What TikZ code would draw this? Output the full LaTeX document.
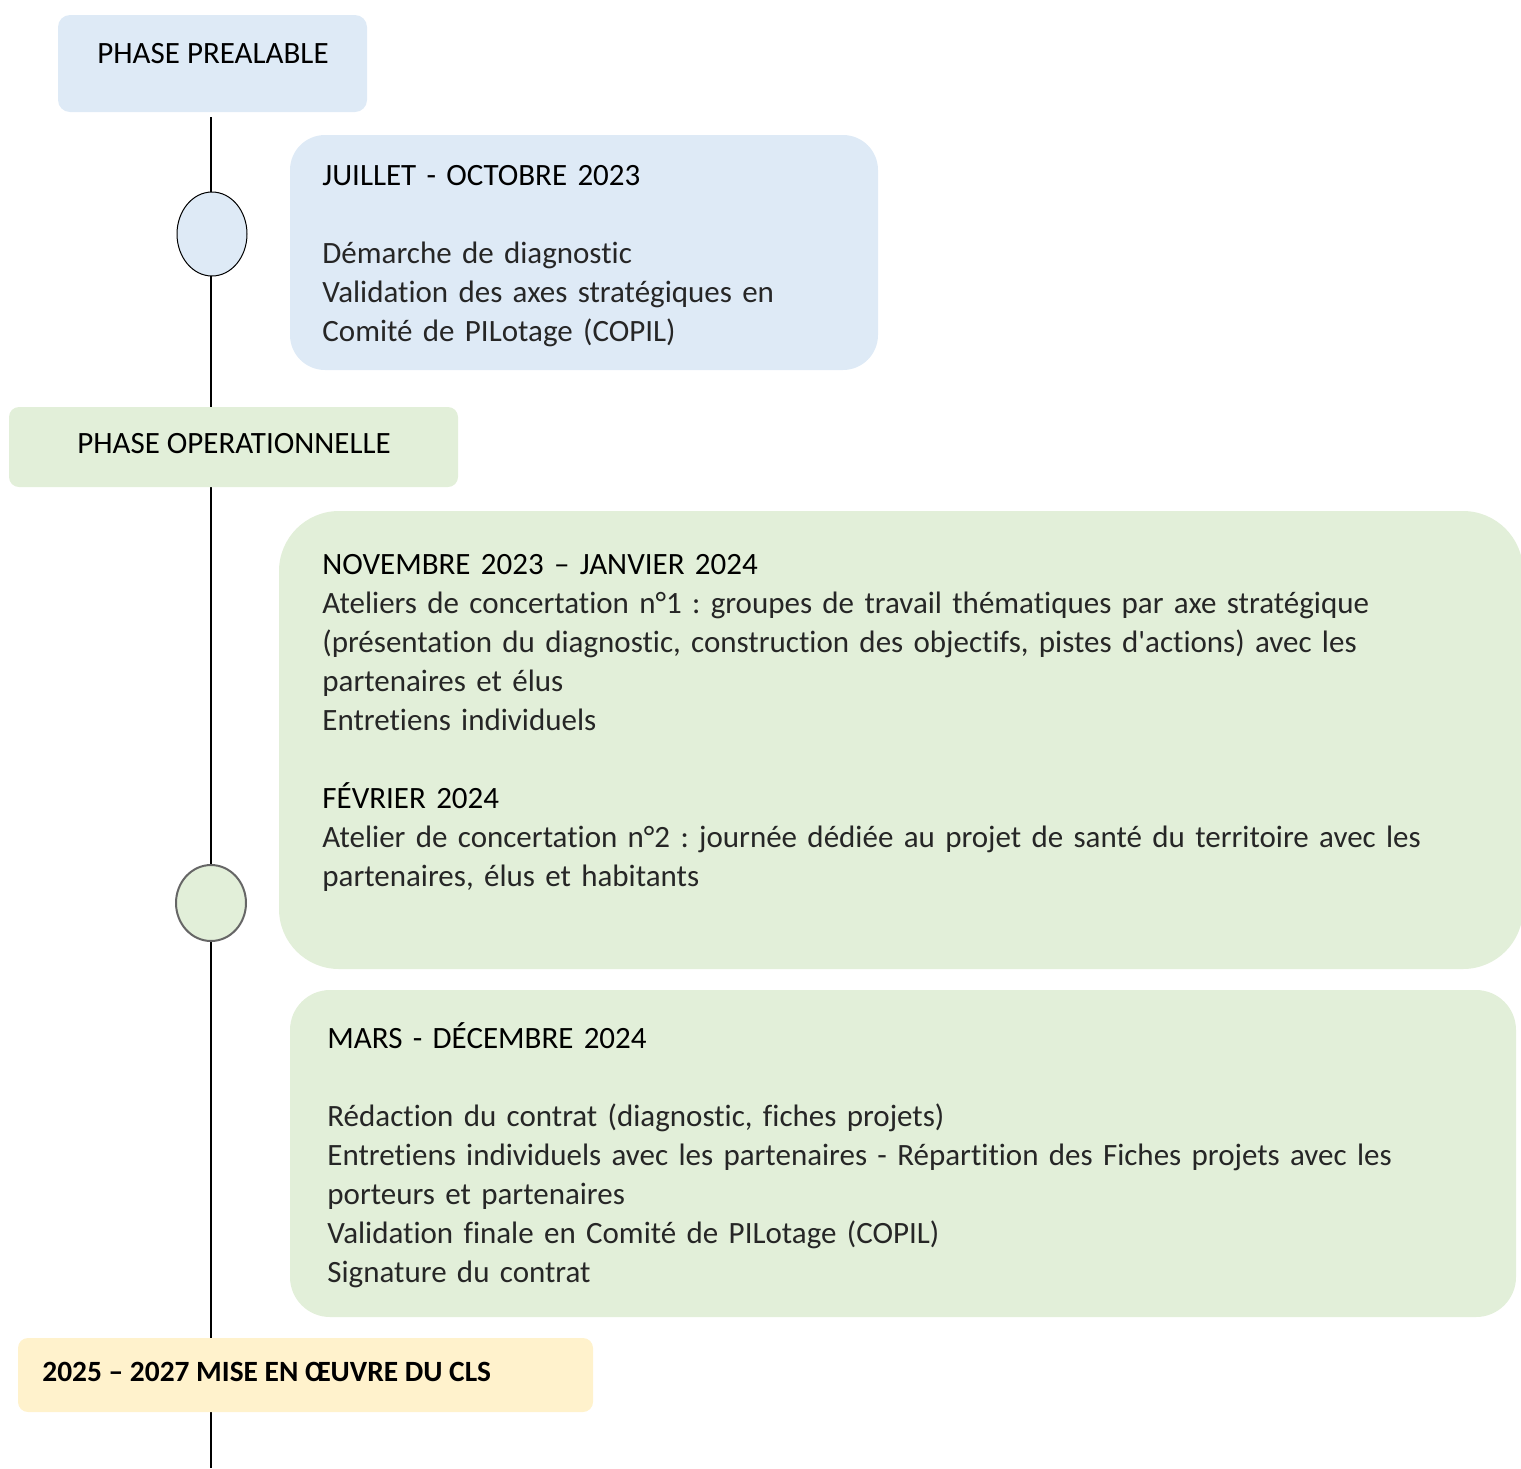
\documentclass[tikz,border=0pt]{standalone}
\usepackage{fontspec}
\setmainfont{Carlito}[Ligatures={TeXOff,CommonOff}]
\frenchspacing
\usetikzlibrary{shapes.geometric,positioning}
\definecolor{prebleu}{HTML}{DEEAF6}
\definecolor{opevert}{HTML}{E2EFD9}
\definecolor{clsjaune}{HTML}{FFF2CC}
\tikzset{
  phasebox/.style={inner sep=0pt, rounded corners=5pt},
  periode/.style={anchor=base west, inner sep=0pt, align=left,
    text width=#1, font=\fontsize{15.5}{19.5}\selectfont},
  titre/.style={inner sep=0pt, font=\fontsize{15.5}{19.5}\selectfont},
  jalon/.style={ellipse, inner sep=0pt, minimum width=35pt}
}

\begin{document}
\begin{tikzpicture}[x=0.5pt,y=-0.5pt]
\useasboundingbox (0,0) rectangle (1521,1468);
% axe du temps
\coordinate (haut) at (211,117);
\coordinate (bas) at (211,1468);
\draw[line width=1pt] (haut) -- (bas);
% phase prealable
\node[phasebox, fill=prebleu, minimum width=154.5pt, minimum height=48.5pt,
  rounded corners=6pt] (pre) at (212.5,63.5) {};
\node[titre, anchor=base] (pre-txt) at (213,63) {PHASE PREALABLE};
\node[jalon, fill=prebleu, draw=black, line width=.5pt,
  minimum height=42pt] (j1) at (212,234) {};
\node[phasebox, fill=prebleu, minimum width=294pt, minimum height=117.5pt,
  rounded corners=17.5pt] (jul) at (584,252.5) {};
\node[periode=270pt] (jul-txt) at (322,185) {JUILLET - OCTOBRE 2023\\[19.5pt]
  {\color{black!85}Démarche de diagnostic}\\
  {\color{black!85}Validation des axes stratégiques en}\\
  {\color{black!85}Comité de PILotage (COPIL)}};
% phase operationnelle
\node[phasebox, fill=opevert, minimum width=224.5pt, minimum height=40pt]
  (ope) at (233.5,447) {};
\node[titre, anchor=base] (ope-txt) at (234,453) {PHASE OPERATIONNELLE};
\node[phasebox, fill=opevert, minimum width=622pt, minimum height=229pt,
  rounded corners=30pt] (nov) at (901,740) {};
\node[jalon, fill=opevert, draw=black!60, line width=1pt,
  minimum height=38pt] (j2) at (211,903) {};
\node[periode=590pt] (nov-txt) at (322,574) {NOVEMBRE 2023 – JANVIER 2024\\
  {\color{black!85}Ateliers de concertation n°1 : groupes de travail thématiques par axe stratégique}\\
  {\color{black!85}(présentation du diagnostic, construction des objectifs, pistes d'actions) avec les}\\
  {\color{black!85}partenaires et élus}\\
  {\color{black!85}Entretiens individuels}\\[19.5pt]
  FÉVRIER 2024\\
  {\color{black!85}Atelier de concertation n°2 : journée dédiée au projet de santé du territoire avec les}\\
  {\color{black!85}partenaires, élus et habitants}};
\node[phasebox, fill=opevert, minimum width=613pt, minimum height=163.5pt,
  rounded corners=20pt] (mar) at (903,1153.5) {};
\node[periode=580pt] (mar-txt) at (327,1048) {MARS - DÉCEMBRE 2024\\[19.5pt]
  {\color{black!85}Rédaction du contrat (diagnostic, fiches projets)}\\
  {\color{black!85}Entretiens individuels avec les partenaires - Répartition des Fiches projets avec les}\\
  {\color{black!85}porteurs et partenaires}\\
  {\color{black!85}Validation finale en Comité de PILotage (COPIL)}\\
  {\color{black!85}Signature du contrat}};
% mise en oeuvre
\node[phasebox, fill=clsjaune, minimum width=287.5pt, minimum height=37pt]
  (cls) at (305.5,1375) {};
\node[titre, anchor=base west, font=\fontsize{14.7}{18}\selectfont\bfseries]
  (cls-txt) at (42,1381) {2025 – 2027 MISE EN ŒUVRE DU CLS};
\end{tikzpicture}
\end{document}
